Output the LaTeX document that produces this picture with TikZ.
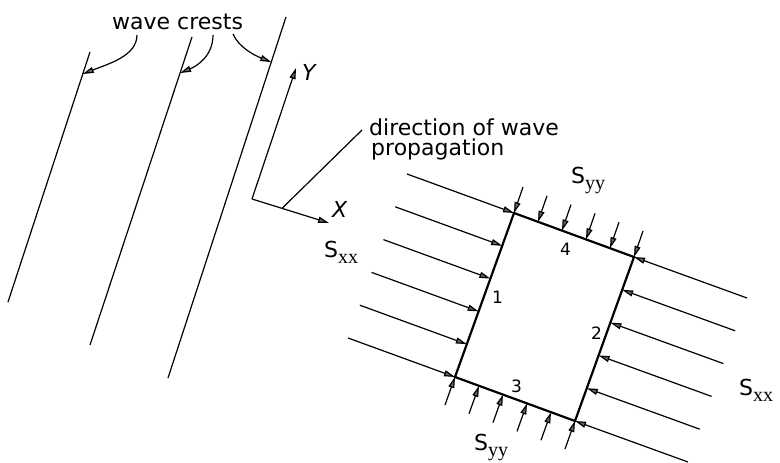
\documentclass[tikz,border=0pt]{standalone}
\usepackage{fontspec}
\setmainfont{DejaVu Sans}
\newfontfamily\subf{Liberation Serif}
\usetikzlibrary{arrows.meta,calc}
\tikzset{
  thin line/.style={line width=1.2pt, draw=black},
  force/.style={thin line, -{Triangle[length=11pt,width=6pt,fill=black!60]}},
  boxline/.style={line width=2.2pt, draw=black, line join=miter},
  lbl/.style={inner sep=0pt, anchor=base west, font=\fontsize{22}{22}\selectfont},
  num/.style={inner sep=0pt, anchor=base west, font=\fontsize{17}{17}\selectfont},
}
\newcommand{\Slab}[1]{S\raisebox{-6pt}{\subf\fontsize{20}{20}\selectfont #1}}
\begin{document}
\begin{tikzpicture}[x=1pt,y=-1pt]
\useasboundingbox (0,0) rectangle (780,463);
% wave crest lines
\coordinate (c1t) at (90,52);  \coordinate (c1b) at (8,302);
\coordinate (c2t) at (192,37); \coordinate (c2b) at (90,345);
\coordinate (c3t) at (286,17); \coordinate (c3b) at (168,378);
\draw[thin line] (c1t) -- (c1b);
\draw[thin line] (c2t) -- (c2b);
\draw[thin line] (c3t) -- (c3b);
% label and curved arrows
\node[lbl] (crests) at (112,30) {wave crests};
\coordinate (a1s) at (137,35); \coordinate (a1e) at ($(c1t)!0.088!(c1b)$);
\coordinate (a2s) at (213,35); \coordinate (a2e) at ($(c2t)!0.117!(c2b)$);
\coordinate (a3s) at (233,34); \coordinate (a3e) at ($(c3t)!0.125!(c3b)$);
\draw[force] (a1s) .. controls (137,56) and (108,64) .. (a1e);
\draw[force] (a2s) .. controls (213,56) and (197,66) .. (a2e);
\draw[force] (a3s) .. controls (239,48) and (256,56) .. (a3e);
% axes
\coordinate (O) at (252,199);
\coordinate (Ytip) at (296,68);
\coordinate (Xtip) at (329,223);
\draw[force] (O) -- (Ytip);
\draw[force] (O) -- (Xtip);
\node[lbl, font=\fontsize{22}{22}\selectfont\itshape] (Y) at (302,80) {Y};
\node[lbl, font=\fontsize{22}{22}\selectfont\itshape] (X) at (332,217) {X};
\coordinate (dirfoot) at ($(O)!0.39!(Xtip)$);
\coordinate (dirtop) at (362,130);
\draw[thin line] (dirfoot) -- (dirtop);
\node[lbl] (dir1) at (369,135) {direction of wave};
\node[lbl] (dir2) at (371,155) {propagation};
% element
\coordinate (TL) at (514,213);
\coordinate (TR) at (634,257);
\coordinate (BR) at (575,421);
\coordinate (BL) at (455,377);
\foreach \t [count=\i] in {0,0.2,0.4,0.6,0.8,1} {
  \coordinate (le\i) at ($(TL)!\t!(BL)$);
  \coordinate (ls\i) at ($(le\i)+(-107,-39)$);
  \draw[force] (ls\i) -- (le\i);
  \coordinate (re\i) at ($(TR)!\t!(BR)$);
  \coordinate (rs\i) at ($(re\i)+(113,41)$);
  \draw[force] (rs\i) -- (re\i);
  \coordinate (te\i) at ($(TL)!\t!(TR)$);
  \coordinate (ts\i) at ($(te\i)+(9,-26)$);
  \draw[force] (ts\i) -- (te\i);
  \coordinate (be\i) at ($(BL)!\t!(BR)$);
  \coordinate (bs\i) at ($(be\i)+(-10,28)$);
  \draw[force] (bs\i) -- (be\i);
}
\draw[boxline] (TL) -- (TR) -- (BR) -- (BL) -- cycle;
% labels
\node[num] (n4) at (560,255) {4};
\node[num] (n1) at (492,303) {1};
\node[num] (n2) at (591,339) {2};
\node[num] (n3) at (511,392) {3};
\node[lbl] (syyt) at (571,183) {\Slab{yy}};
\node[lbl] (sxxl) at (324,257) {\Slab{xx}};
\node[lbl] (sxxr) at (739,395) {\Slab{xx}};
\node[lbl] (syyb) at (474,450) {\Slab{yy}};
\end{tikzpicture}
\end{document}
